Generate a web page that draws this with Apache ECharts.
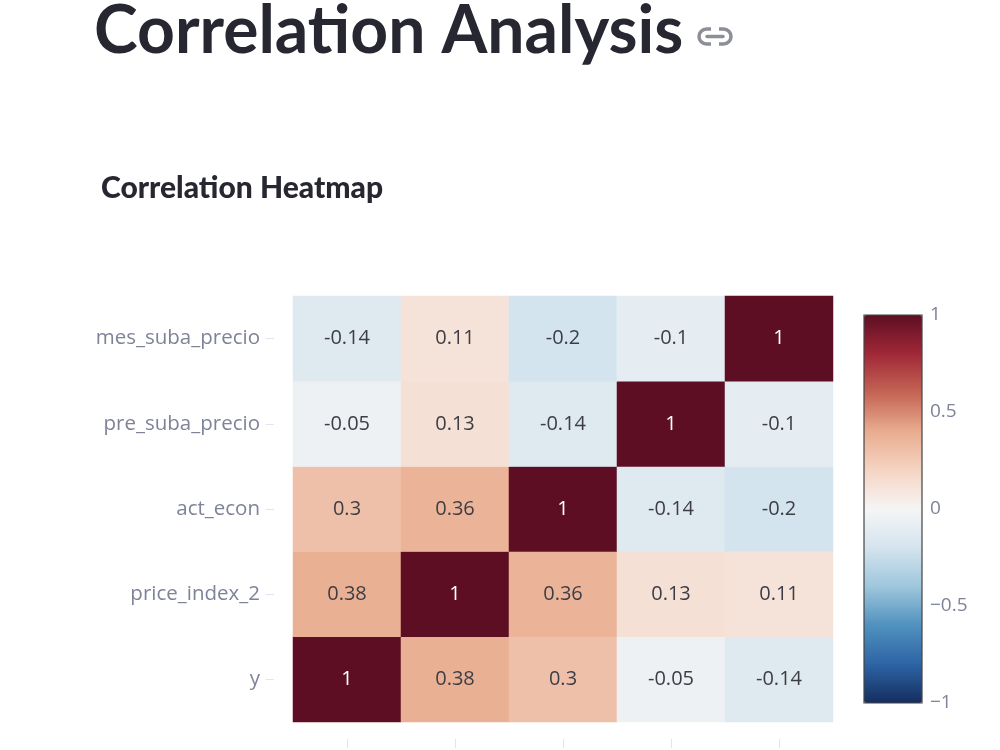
<!DOCTYPE html>
<html>
<head>
<meta charset="utf-8">
<script src="https://cdn.jsdelivr.net/npm/echarts@6/dist/echarts.min.js"></script>
<style>
  html, body { margin: 0; padding: 0; background: #fff; }
  #chart { width: 1000px; height: 750px; }
</style>
</head>
<body>
<div id="chart"></div>
<script>
// variable names (x left->right, y bottom->top)
var variables = ['y', 'price_index_2', 'act_econ', 'pre_suba_precio', 'mes_suba_precio'];

// correlation rows, same order as variables
var rowY = [1, 0.38, 0.3, -0.05, -0.14];
var rowPriceIndex = [0.38, 1, 0.36, 0.13, 0.11];
var rowActEcon = [0.3, 0.36, 1, -0.14, -0.2];
var rowPreSuba = [-0.05, 0.13, -0.14, 1, -0.1];
var rowMesSuba = [-0.14, 0.11, -0.2, -0.1, 1];

var colorbarTicks = [-1, -0.5, 0, 0.5, 1];

// RdBu-like scale as it looks in the screenshot, -1 (blue) to 1 (dark red)
var rdbu = ['rgb(20,45,95)', 'rgb(45,100,165)', 'rgb(80,145,190)', 'rgb(158,198,220)',
  'rgb(212,228,238)', 'rgb(245,245,245)', 'rgb(245,212,195)', 'rgb(233,172,142)',
  'rgb(196,100,85)', 'rgb(160,40,55)', 'rgb(94,14,35)'];

var rows = [rowY, rowPriceIndex, rowActEcon, rowPreSuba, rowMesSuba];
var cells = [];
rows.forEach(function (row, yi) {
  row.forEach(function (v, xi) {
    cells.push({
      value: [xi, yi, v],
      label: { color: v > 0.5 ? '#ffffff' : '#3d3d45' }
    });
  });
});

var tickColor = '#7f8398';
var myChart = echarts.init(document.getElementById('chart'));

var option = {
  backgroundColor: '#ffffff',
  animation: false,
  title: [
    {
      text: 'Correlation Analysis',
      left: 89, top: -6,
      textStyle: { fontFamily: 'Lato', fontWeight: 'bold', fontSize: 66, color: '#262730' }
    },
    {
      text: 'Correlation Heatmap',
      left: 96, top: 168,
      textStyle: { fontFamily: 'Lato', fontWeight: 900, fontSize: 30, color: '#262730' }
    }
  ],
  graphic: [
    // link icon next to the heading
    { type: 'rect', shape: { x: 699, y: 29, width: 32, height: 15, r: 7.5 },
      style: { fill: 'none', stroke: '#8d8f97', lineWidth: 3.5 } },
    { type: 'rect', shape: { x: 711, y: 25, width: 8, height: 23 },
      style: { fill: '#ffffff' } },
    { type: 'line', shape: { x1: 707, y1: 36.5, x2: 723, y2: 36.5 },
      style: { stroke: '#8d8f97', lineWidth: 3.5, lineCap: 'round' } },
    // colorbar outline
    { type: 'rect', z: 100, shape: { x: 864, y: 315, width: 58, height: 388 },
      style: { fill: 'none', stroke: '#444444', lineWidth: 1.2 } }
  ],
  grid: [
    { left: 293, top: 296, width: 540, height: 426 },
    { left: 864, top: 315, width: 58, height: 388, show: false }
  ],
  xAxis: [
    {
      type: 'category', data: variables, gridIndex: 0, offset: 17,
      axisLine: { show: false },
      axisTick: { show: true, interval: 0, alignWithLabel: true, length: 9, lineStyle: { color: '#e2e4ea' } },
      axisLabel: { show: false, interval: 0 },
      splitLine: { show: false }
    },
    { type: 'value', gridIndex: 1, show: false }
  ],
  yAxis: [
    {
      type: 'category', data: variables, gridIndex: 0, offset: 19,
      axisLine: { show: false },
      axisTick: { show: true, interval: 0, alignWithLabel: true, length: 8, lineStyle: { color: '#e2e4ea' } },
      axisLabel: { color: tickColor, fontSize: 20.5, fontFamily: 'Open Sans', margin: 14, interval: 0 },
      splitLine: { show: false }
    },
    {
      type: 'value', gridIndex: 1, position: 'right',
      min: colorbarTicks[0], max: colorbarTicks[colorbarTicks.length - 1], interval: 0.5,
      axisLine: { show: false }, axisTick: { show: false }, splitLine: { show: false },
      axisLabel: {
        color: tickColor, fontSize: 19, fontFamily: 'Open Sans', margin: 8,
        formatter: function (v) { return String(v).replace('-', '\u2212'); }
      }
    }
  ],
  visualMap: {
    type: 'continuous',
    min: -1, max: 1,
    seriesIndex: 0,
    calculable: false,
    realtime: false,
    orient: 'vertical',
    left: 864, top: 315,
    padding: 0,
    itemWidth: 58, itemHeight: 388,
    text: ['', ''],
    showLabel: false,
    inRange: { color: rdbu }
  },
  series: [
    {
      type: 'heatmap',
      xAxisIndex: 0, yAxisIndex: 0,
      data: cells,
      label: {
        show: true, fontSize: 20, fontFamily: 'Open Sans',
        formatter: function (p) { return String(p.value[2]); }
      },
      emphasis: { disabled: true }
    }
  ]
};

myChart.setOption(option);
window.onresize = function () { myChart.resize(); };
</script>
</body>
</html>
